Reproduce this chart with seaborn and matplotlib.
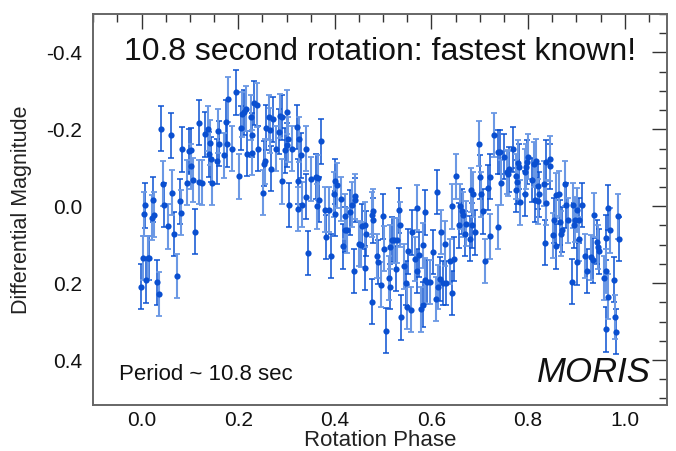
import matplotlib
matplotlib.use("Agg")
import matplotlib.pyplot as plt
import seaborn as sns
import numpy as np
import pandas as pd
from matplotlib.ticker import MultipleLocator, FormatStrFormatter

# ---- data ----
phase = [-0.001, 0.002, 0.010, 0.013, 0.016, 0.006, 0.007, 0.021, 0.023, 0.026,
         0.031, 0.035, 0.041, 0.044, 0.047, 0.055, 0.061, 0.062, 0.068, 0.074,
         0.080, 0.082, 0.084, 0.093, 0.098, 0.102, 0.103, 0.106, 0.111, 0.118,
         0.119, 0.124, 0.132, 0.137, 0.139, 0.141, 0.144, 0.146, 0.157, 0.158,
         0.160, 0.171, 0.175, 0.178, 0.177, 0.187, 0.195, 0.202, 0.206, 0.208,
         0.211, 0.216, 0.218, 0.227, 0.229, 0.229, 0.232, 0.238, 0.240, 0.251,
         0.253, 0.256, 0.258, 0.264, 0.267, 0.265, 0.273, 0.279, 0.285, 0.286,
         0.290, 0.291, 0.296, 0.301, 0.300, 0.303, 0.305, 0.312, 0.321, 0.323,
         0.324, 0.326, 0.329, 0.333, 0.340, 0.341, 0.344, 0.350, 0.360, 0.365,
         0.367, 0.363, 0.372, 0.379, 0.381, 0.388, 0.393, 0.398, 0.401, 0.404,
         0.401, 0.412, 0.417, 0.420, 0.422, 0.425, 0.431, 0.436, 0.439, 0.441,
         0.441, 0.450, 0.457, 0.455, 0.462, 0.462, 0.465, 0.477, 0.479, 0.479,
         0.477, 0.488, 0.490, 0.495, 0.499, 0.502, 0.506, 0.512, 0.514, 0.515,
         0.518, 0.522, 0.527, 0.529, 0.533, 0.534, 0.537, 0.544, 0.548, 0.550,
         0.551, 0.557, 0.560, 0.566, 0.571, 0.571, 0.574, 0.578, 0.582, 0.583,
         0.586, 0.587, 0.591, 0.598, 0.603, 0.610, 0.611, 0.613, 0.617, 0.620,
         0.624, 0.629, 0.630, 0.639, 0.642, 0.643, 0.647, 0.651, 0.658, 0.659,
         0.663, 0.666, 0.669, 0.672, 0.679, 0.682, 0.683, 0.685, 0.690, 0.698,
         0.701, 0.702, 0.706, 0.711, 0.717, 0.721, 0.721, 0.730, 0.737, 0.738,
         0.741, 0.743, 0.750, 0.756, 0.760, 0.759, 0.769, 0.776, 0.775, 0.779,
         0.778, 0.783, 0.781, 0.794, 0.794, 0.796, 0.798, 0.800, 0.808, 0.812,
         0.814, 0.817, 0.821, 0.821, 0.823, 0.832, 0.834, 0.837, 0.837, 0.846,
         0.846, 0.852, 0.854, 0.857, 0.858, 0.863, 0.867, 0.869, 0.871, 0.877,
         0.879, 0.883, 0.890, 0.892, 0.895, 0.897, 0.902, 0.902, 0.906, 0.906,
         0.912, 0.918, 0.922, 0.931, 0.934, 0.937, 0.942, 0.944, 0.947, 0.958,
         0.961, 0.961, 0.961, 0.965, 0.966, 0.970, 0.977, 0.980, 0.982, 0.987,
         0.989]
magnitude = [0.209, 0.135, 0.193, 0.135, 0.135, 0.020, -0.002, 0.030, -0.017, 0.022,
             0.198, 0.228, -0.202, -0.059, -0.003, 0.052, -0.184, -0.035, 0.072, 0.181,
             -0.013, 0.017, -0.148, -0.061, -0.143, -0.104, -0.146, -0.068, 0.066, -0.063,
             -0.217, -0.061, -0.187, -0.202, -0.135, -0.165, -0.122, -0.061, -0.117, -0.196,
             -0.163, -0.132, -0.219, -0.278, -0.161, -0.150, -0.296, -0.078, -0.203, -0.239,
             -0.244, -0.254, -0.137, -0.231, -0.185, -0.139, -0.268, -0.263, -0.150, -0.035,
             -0.111, -0.117, -0.204, -0.231, -0.098, -0.197, -0.226, -0.150, -0.194, -0.235,
             -0.231, -0.065, -0.145, -0.245, -0.159, -0.174, -0.003, -0.150, -0.206, 0.007,
             -0.065, -0.174, -0.132, -0.004, -0.025, -0.150, 0.122, -0.071, -0.077, -0.074,
             -0.017, 0.000, -0.169, 0.009, 0.080, 0.009, 0.129, -0.031, -0.065, -0.054,
             0.019, -0.019, 0.104, 0.026, 0.061, 0.063, 0.016, -0.004, 0.169, -0.026,
             -0.016, 0.097, 0.052, 0.100, 0.161, 0.048, 0.071, 0.022, 0.037, 0.013,
             0.248, 0.129, 0.145, 0.204, 0.026, 0.110, 0.324, 0.187, 0.209, 0.106,
             0.087, 0.089, 0.162, 0.089, 0.011, 0.048, 0.289, 0.156, 0.200, 0.262,
             0.117, 0.269, 0.068, 0.137, 0.169, 0.004, 0.126, 0.268, 0.256, 0.102,
             0.016, 0.193, 0.197, 0.197, 0.119, 0.241, -0.037, 0.210, 0.189, 0.067,
             0.200, 0.097, 0.200, 0.143, 0.226, 0.000, 0.137, -0.078, 0.050, 0.000,
             0.013, 0.022, 0.071, 0.045, 0.084, -0.042, 0.050, -0.031, 0.068, -0.163,
             -0.076, -0.031, 0.013, 0.142, -0.048, 0.078, -0.077, -0.185, -0.141, 0.054,
             -0.141, -0.061, -0.129, -0.089, -0.096, -0.085, -0.148, -0.078, -0.042, -0.113,
             -0.063, -0.010, -0.103, -0.090, -0.033, -0.103, -0.115, -0.129, -0.068, -0.109,
             -0.016, -0.117, -0.052, -0.013, -0.031, -0.059, 0.095, -0.009, -0.115, -0.124,
             -0.104, 0.076, 0.037, -0.028, 0.104, -0.033, 0.042, 0.071, 0.061, -0.059,
             -0.002, 0.037, 0.196, -0.002, 0.050, 0.035, 0.146, 0.010, 0.037, 0.085,
             -0.003, 0.129, 0.169, 0.133, 0.141, 0.023, 0.093, 0.106, 0.117, 0.187,
             0.082, 0.169, 0.320, 0.235, 0.004, 0.063, 0.191, 0.288, 0.326, 0.026,
             0.085]
mag_error = 0.058  # typical 1-sigma error bar

title_text = "10.8 second rotation: fastest known!"
period_text = "Period ~ 10.8 sec"
instrument_text = "MORIS"
x_label = "Rotation Phase"
y_label = "Differential Magnitude"

df = pd.DataFrame({"phase": phase, "mag": magnitude})

# ---- style ----
sns.set_style("white")
plt.rcParams["font.family"] = ["Liberation Sans", "DejaVu Sans"]
plt.rcParams["axes.unicode_minus"] = False

fig = plt.figure(figsize=(6.76, 4.51), dpi=100)
ax = fig.add_axes([0.138, 0.102, 0.849, 0.867])

dark = "#0b52d2"
light = "#6b98e4"

ax.errorbar(df["phase"][::2], df["mag"][::2], yerr=mag_error, fmt="none",
            ecolor=dark, elinewidth=1.1, capsize=2.3, capthick=1.1, zorder=2)
ax.errorbar(df["phase"][1::2], df["mag"][1::2], yerr=mag_error, fmt="none",
            ecolor=light, elinewidth=1.5, capsize=2.3, capthick=1.3, zorder=2)
sns.scatterplot(data=df, x="phase", y="mag", ax=ax, color="#0a4fd0",
                s=20, linewidth=0, zorder=3, legend=False)

ax.set_xlim(-0.1, 1.088)
ax.set_ylim(0.517, -0.5)

ax.xaxis.set_major_locator(MultipleLocator(0.2))
ax.xaxis.set_minor_locator(MultipleLocator(0.05))
ax.yaxis.set_major_locator(MultipleLocator(0.2))
ax.yaxis.set_minor_locator(MultipleLocator(0.05))
ax.xaxis.set_major_formatter(FormatStrFormatter("%.1f"))
ax.yaxis.set_major_formatter(FormatStrFormatter("%.1f"))

ax.tick_params(which="both", direction="in", top=True, right=True,
               color="#333333", width=1.0, labelsize=15, labelcolor="#111111")
ax.tick_params(which="major", length=11)
ax.tick_params(axis="x", which="major", pad=4)
ax.tick_params(axis="y", which="major", pad=8)
ax.tick_params(which="minor", length=5.5)
for sp in ax.spines.values():
    sp.set_color("#666666")
    sp.set_linewidth(1.4)

ax.set_xlabel(x_label, fontsize=16, color="#222222", labelpad=0)
ax.set_ylabel(y_label, fontsize=15.5, color="#222222", labelpad=10)

ax.text(0.5, 0.94, title_text, transform=ax.transAxes, ha="center", va="top",
        fontsize=23, color="#111111")
ax.text(0.045, 0.05, period_text, transform=ax.transAxes, ha="left", va="bottom",
        fontsize=16, color="#111111")
ax.text(0.972, 0.04, instrument_text, transform=ax.transAxes, ha="right", va="bottom",
        fontsize=25, style="italic", color="#111111")

fig.savefig("out.png", dpi=100)
